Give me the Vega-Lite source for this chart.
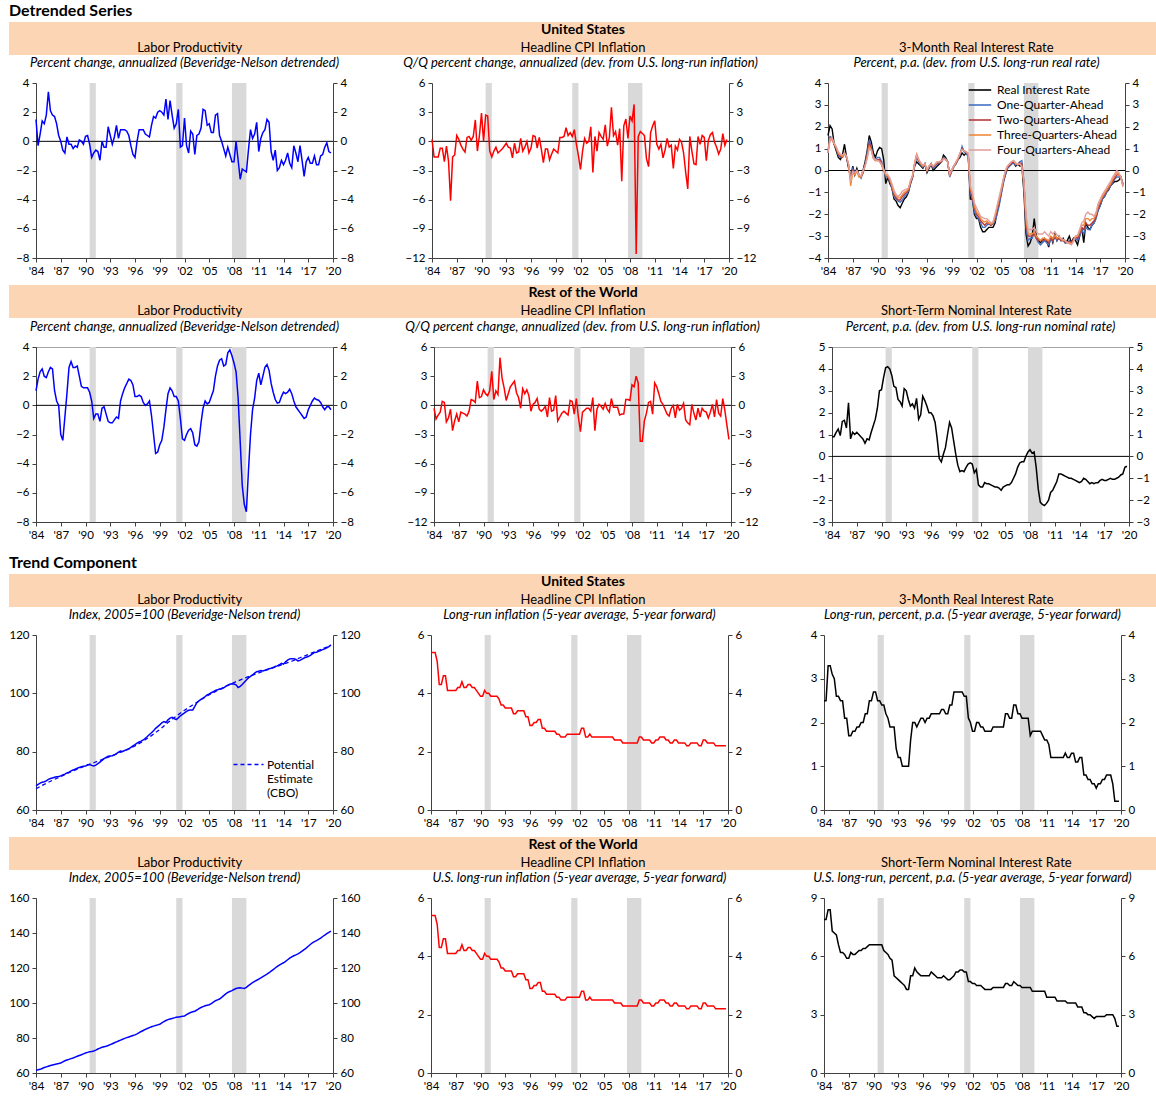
{
"$schema":"https://vega.github.io/schema/vega-lite/v6.json",
"padding":{"left":8,"top":3,"right":0,"bottom":0},
"background":"white",
"config":{
"font":"Lato",
"view":{"stroke":null},
"title":{"font":"Lato","fontSize":13,"fontStyle":"italic","fontWeight":"normal","color":"#000000","offset":7,"anchor":"middle"},
"axis":{"labelFont":"Lato","labelFontSize":11.5,"labelColor":"#000000","domainColor":"#404040","tickColor":"#404040","tickSize":4,"grid":false,"labelPadding":3},
"axisY":{"minExtent":26,"maxExtent":26},
"legend":{"labelFont":"Lato","labelFontSize":12,"labelColor":"#000000"},
"text":{"font":"Lato","color":"#000000"}
},
"datasets":{
"rec":[{"s":1990.5,"e":1991.25},{"s":2001.0,"e":2001.75},{"s":2007.75,"e":2009.5}],
"pot":[{"t":1984,"v":67.3},{"t":1985,"v":68.8},{"t":1986,"v":70.2},{"t":1987,"v":71.5},{"t":1988,"v":72.8},{"t":1989,"v":74.0},{"t":1990,"v":75.2},{"t":1991,"v":76.2},{"t":1992,"v":77.3},{"t":1993,"v":78.4},{"t":1994,"v":79.5},{"t":1995,"v":80.6},{"t":1996,"v":82.0},{"t":1997,"v":83.6},{"t":1998,"v":85.5},{"t":1999,"v":87.6},{"t":2000,"v":90.0},{"t":2001,"v":92.2},{"t":2002,"v":94.2},{"t":2003,"v":96.0},{"t":2004,"v":97.8},{"t":2005,"v":99.5},{"t":2006,"v":101.0},{"t":2007,"v":102.4},{"t":2008,"v":103.7},{"t":2009,"v":104.9},{"t":2010,"v":106.0},{"t":2011,"v":107.0},{"t":2012,"v":108.0},{"t":2013,"v":109.0},{"t":2014,"v":110.0},{"t":2015,"v":111.0},{"t":2016,"v":112.2},{"t":2017,"v":113.3},{"t":2018,"v":114.5},{"t":2019,"v":115.6},{"t":2019.75,"v":116.4}],
"bandUS":[{"c":"1","r":"h","s":""},{"c":"2","r":"h","s":"United States"},{"c":"3","r":"h","s":""},{"c":"1","r":"s","s":"Labor Productivity"},{"c":"2","r":"s","s":"Headline CPI Inflation"},{"c":"3","r":"s","s":"3-Month Real Interest Rate"}],
"bandRW":[{"c":"1","r":"h","s":""},{"c":"2","r":"h","s":"Rest of the World"},{"c":"3","r":"h","s":""},{"c":"1","r":"s","s":"Labor Productivity"},{"c":"2","r":"s","s":"Headline CPI Inflation"},{"c":"3","r":"s","s":"Short-Term Nominal Interest Rate"}],
"q":[
{"t":1984,"ul":1.5,"uc":0.2,"rr":1.6,"f1":0.9,"f2":0.8,"f3":0.9,"f4":0.8,"rl":1.0,"rc":-0.3,"ri":0.9,"tl":68.3,"ti":5.4,"tr":2.5,"tw":61.5,"tn":7.9},
{"t":1984.25,"ul":-0.3,"uc":-1.6,"rr":2.05,"f1":1.55,"f2":1.5,"f3":1.4,"f4":1.45,"rl":1.8,"rc":-1.4,"ri":0.9,"tl":68.8,"ti":5.4,"tr":2.5,"tw":61.8,"tn":7.9},
{"t":1984.5,"ul":0.5,"uc":-1.6,"rr":1.9,"f1":1.5,"f2":1.45,"f3":1.4,"f4":1.5,"rl":2.3,"rc":-1.0,"ri":1.1,"tl":69.2,"ti":5.4,"tr":3.3,"tw":62.1,"tn":8.4},
{"t":1984.75,"ul":1.4,"uc":-1.6,"rr":1.2,"f1":1.2,"f2":1.2,"f3":1.2,"f4":1.25,"rl":2.5,"rc":-0.7,"ri":1.25,"tl":69.5,"ti":5.1,"tr":3.3,"tw":62.6,"tn":8.4},
{"t":1985,"ul":1.2,"uc":-0.7,"rr":0.9,"f1":1.0,"f2":1.0,"f3":1.05,"f4":1.1,"rl":2.0,"rc":0.4,"ri":0.95,"tl":69.7,"ti":4.3,"tr":3.1,"tw":63.1,"tn":7.3},
{"t":1985.25,"ul":1.8,"uc":-0.7,"rr":0.6,"f1":0.7,"f2":0.75,"f3":0.8,"f4":0.85,"rl":1.9,"rc":0.3,"ri":1.6,"tl":70.0,"ti":4.3,"tr":3.0,"tw":63.5,"tn":7.2},
{"t":1985.5,"ul":3.4,"uc":-2.1,"rr":0.5,"f1":0.6,"f2":0.65,"f3":0.7,"f4":0.75,"rl":2.3,"rc":-1.7,"ri":1.65,"tl":70.5,"ti":4.6,"tr":2.6,"tw":63.9,"tn":7.1},
{"t":1985.75,"ul":2.1,"uc":-0.5,"rr":0.7,"f1":0.6,"f2":0.6,"f3":0.65,"f4":0.7,"rl":2.6,"rc":-1.3,"ri":1.3,"tl":70.8,"ti":4.6,"tr":2.6,"tw":64.3,"tn":6.6},
{"t":1986,"ul":1.8,"uc":-2.0,"rr":1.2,"f1":0.8,"f2":0.8,"f3":0.75,"f4":0.8,"rl":2.5,"rc":-0.4,"ri":2.45,"tl":71.0,"ti":4.1,"tr":2.5,"tw":64.6,"tn":6.2},
{"t":1986.25,"ul":1.7,"uc":-6.1,"rr":0.6,"f1":0.6,"f2":0.6,"f3":0.65,"f4":0.65,"rl":1.0,"rc":-2.6,"ri":0.8,"tl":71.2,"ti":4.1,"tr":2.5,"tw":64.9,"tn":6.2},
{"t":1986.5,"ul":1.2,"uc":-1.6,"rr":0.1,"f1":0.2,"f2":0.2,"f3":0.25,"f4":0.3,"rl":0.3,"rc":-1.6,"ri":1.1,"tl":71.4,"ti":4.1,"tr":2.1,"tw":65.2,"tn":6.1},
{"t":1986.75,"ul":0.4,"uc":-1.4,"rr":-0.3,"f1":-0.3,"f2":-0.4,"f3":-0.7,"f4":-0.5,"rl":0.0,"rc":-0.9,"ri":1.0,"tl":71.5,"ti":4.1,"tr":2.1,"tw":65.4,"tn":5.9},
{"t":1987,"ul":0.0,"uc":0.6,"rr":0.2,"f1":0.1,"f2":0.0,"f3":-0.1,"f4":-0.05,"rl":-2.0,"rc":-1.7,"ri":1.1,"tl":71.7,"ti":4.1,"tr":1.7,"tw":65.7,"tn":5.9},
{"t":1987.25,"ul":-0.6,"uc":0.2,"rr":-0.2,"f1":-0.1,"f2":-0.15,"f3":-0.2,"f4":-0.1,"rl":-2.4,"rc":-0.7,"ri":1.0,"tl":72.0,"ti":4.2,"tr":1.7,"tw":66.4,"tn":6.2},
{"t":1987.5,"ul":-0.8,"uc":-0.4,"rr":0.1,"f1":0.0,"f2":0.0,"f3":-0.05,"f4":0.0,"rl":-0.8,"rc":-0.8,"ri":0.9,"tl":72.3,"ti":4.2,"tr":1.8,"tw":67.0,"tn":6.1},
{"t":1987.75,"ul":0.3,"uc":-0.8,"rr":-0.2,"f1":-0.2,"f2":-0.25,"f3":-0.3,"f4":-0.2,"rl":0.8,"rc":-0.9,"ri":0.8,"tl":72.7,"ti":4.4,"tr":1.8,"tw":67.4,"tn":6.1},
{"t":1988,"ul":-0.2,"uc":-1.1,"rr":-0.3,"f1":-0.35,"f2":-0.3,"f3":-0.3,"f4":-0.25,"rl":2.6,"rc":-1.1,"ri":0.6,"tl":73.0,"ti":4.2,"tr":1.9,"tw":67.8,"tn":6.2},
{"t":1988.25,"ul":-0.2,"uc":0.4,"rr":0.0,"f1":-0.1,"f2":-0.1,"f3":-0.05,"f4":0.0,"rl":3.0,"rc":-0.6,"ri":0.8,"tl":73.4,"ti":4.2,"tr":1.9,"tw":68.2,"tn":6.3},
{"t":1988.5,"ul":-0.5,"uc":0.5,"rr":0.4,"f1":0.3,"f2":0.25,"f3":0.2,"f4":0.2,"rl":2.6,"rc":0.6,"ri":0.75,"tl":73.7,"ti":4.3,"tr":2.0,"tw":68.6,"tn":6.3},
{"t":1988.75,"ul":-0.3,"uc":0.1,"rr":0.9,"f1":0.8,"f2":0.7,"f3":0.6,"f4":0.55,"rl":2.6,"rc":0.5,"ri":1.1,"tl":74.0,"ti":4.3,"tr":2.0,"tw":69.1,"tn":6.4},
{"t":1989,"ul":-0.4,"uc":0.5,"rr":1.6,"f1":1.4,"f2":1.25,"f3":1.1,"f4":1.0,"rl":2.7,"rc":0.3,"ri":1.4,"tl":74.3,"ti":4.2,"tr":2.2,"tw":69.6,"tn":6.4},
{"t":1989.25,"ul":0.1,"uc":2.2,"rr":1.3,"f1":1.1,"f2":1.0,"f3":0.95,"f4":0.9,"rl":2.0,"rc":2.5,"ri":1.7,"tl":74.6,"ti":4.2,"tr":2.2,"tw":70.0,"tn":6.5},
{"t":1989.5,"ul":0.0,"uc":-1.0,"rr":0.8,"f1":0.6,"f2":0.6,"f3":0.55,"f4":0.55,"rl":1.3,"rc":0.8,"ri":2.2,"tl":74.8,"ti":4.1,"tr":2.5,"tw":70.4,"tn":6.6},
{"t":1989.75,"ul":-0.2,"uc":0.6,"rr":0.6,"f1":0.5,"f2":0.45,"f3":0.45,"f4":0.5,"rl":1.2,"rc":0.9,"ri":3.0,"tl":75.0,"ti":4.0,"tr":2.5,"tw":70.9,"tn":6.6},
{"t":1990,"ul":0.35,"uc":2.9,"rr":0.9,"f1":0.6,"f2":0.5,"f3":0.45,"f4":0.45,"rl":1.2,"rc":1.6,"ri":3.05,"tl":75.1,"ti":3.9,"tr":2.7,"tw":71.4,"tn":6.6},
{"t":1990.25,"ul":0.4,"uc":0.0,"rr":1.05,"f1":0.6,"f2":0.5,"f3":0.4,"f4":0.4,"rl":1.2,"rc":1.2,"ri":3.6,"tl":75.4,"ti":3.9,"tr":2.7,"tw":71.8,"tn":6.6},
{"t":1990.5,"ul":-0.2,"uc":2.7,"rr":1.0,"f1":0.4,"f2":0.3,"f3":0.25,"f4":0.3,"rl":0.9,"rc":1.0,"ri":4.05,"tl":75.6,"ti":4.1,"tr":2.5,"tw":72.1,"tn":6.6},
{"t":1990.75,"ul":-1.1,"uc":2.6,"rr":0.5,"f1":0.1,"f2":0.0,"f3":0.0,"f4":0.05,"rl":0.3,"rc":1.5,"ri":4.1,"tl":75.3,"ti":4.0,"tr":2.5,"tw":72.3,"tn":6.6},
{"t":1991,"ul":-0.8,"uc":-1.0,"rr":-0.6,"f1":-0.3,"f2":-0.2,"f3":-0.2,"f4":-0.15,"rl":-0.9,"rc":3.5,"ri":4.0,"tl":75.1,"ti":4.0,"tr":2.4,"tw":72.6,"tn":6.6},
{"t":1991.25,"ul":-0.6,"uc":-1.6,"rr":-0.3,"f1":-0.3,"f2":-0.3,"f3":-0.25,"f4":-0.2,"rl":-0.6,"rc":0.6,"ri":3.7,"tl":75.4,"ti":3.9,"tr":2.4,"tw":73.1,"tn":6.3},
{"t":1991.5,"ul":-0.7,"uc":-1.0,"rr":-0.6,"f1":-0.5,"f2":-0.45,"f3":-0.4,"f4":-0.35,"rl":-0.6,"rc":1.5,"ri":3.2,"tl":75.9,"ti":3.9,"tr":2.2,"tw":73.7,"tn":6.2},
{"t":1991.75,"ul":-1.3,"uc":-0.6,"rr":-0.8,"f1":-0.8,"f2":-0.75,"f3":-0.7,"f4":-0.6,"rl":-1.1,"rc":1.1,"ri":3.15,"tl":76.4,"ti":3.9,"tr":2.1,"tw":74.2,"tn":6.1},
{"t":1992,"ul":0.0,"uc":-1.2,"rr":-1.3,"f1":-1.2,"f2":-1.1,"f3":-1.0,"f4":-0.9,"rl":-0.2,"rc":4.9,"ri":2.6,"tl":77.0,"ti":3.9,"tr":1.9,"tw":74.7,"tn":5.9},
{"t":1992.25,"ul":-0.4,"uc":-1.0,"rr":-1.4,"f1":-1.3,"f2":-1.25,"f3":-1.15,"f4":-1.1,"rl":-0.1,"rc":2.8,"ri":2.5,"tl":77.6,"ti":3.8,"tr":1.9,"tw":75.0,"tn":5.8},
{"t":1992.5,"ul":-0.4,"uc":-0.8,"rr":-1.6,"f1":-1.4,"f2":-1.35,"f3":-1.25,"f4":-1.2,"rl":-0.6,"rc":1.8,"ri":2.3,"tl":78.0,"ti":3.6,"tr":1.9,"tw":75.3,"tn":5.0},
{"t":1992.75,"ul":1.0,"uc":-0.5,"rr":-1.7,"f1":-1.45,"f2":-1.35,"f3":-1.25,"f4":-1.1,"rl":-1.1,"rc":0.5,"ri":3.1,"tl":78.4,"ti":3.6,"tr":1.4,"tw":75.7,"tn":4.9},
{"t":1993,"ul":0.4,"uc":-0.2,"rr":-1.5,"f1":-1.35,"f2":-1.2,"f3":-1.1,"f4":-0.95,"rl":-1.2,"rc":1.2,"ri":3.0,"tl":78.5,"ti":3.5,"tr":1.2,"tw":76.2,"tn":4.8},
{"t":1993.25,"ul":-0.2,"uc":-0.6,"rr":-1.3,"f1":-1.2,"f2":-1.1,"f3":-1.0,"f4":-0.9,"rl":-1.2,"rc":1.9,"ri":2.6,"tl":78.6,"ti":3.5,"tr":1.2,"tw":76.7,"tn":4.7},
{"t":1993.5,"ul":0.3,"uc":-0.7,"rr":-1.2,"f1":-1.1,"f2":-1.0,"f3":-0.95,"f4":-0.85,"rl":-1.0,"rc":2.2,"ri":2.3,"tl":78.9,"ti":3.5,"tr":1.0,"tw":77.3,"tn":4.6},
{"t":1993.75,"ul":1.1,"uc":-1.7,"rr":-1.0,"f1":-0.95,"f2":-0.9,"f3":-0.85,"f4":-0.8,"rl":-0.8,"rc":2.5,"ri":2.4,"tl":79.3,"ti":3.5,"tr":1.0,"tw":77.8,"tn":4.5},
{"t":1994,"ul":0.2,"uc":-0.2,"rr":-0.6,"f1":-0.6,"f2":-0.55,"f3":-0.5,"f4":-0.45,"rl":-0.9,"rc":1.3,"ri":2.2,"tl":79.8,"ti":3.3,"tr":1.0,"tw":78.3,"tn":4.3},
{"t":1994.25,"ul":0.8,"uc":-1.2,"rr":-0.3,"f1":-0.3,"f2":-0.3,"f3":-0.2,"f4":-0.25,"rl":0.3,"rc":0.8,"ri":2.65,"tl":80.2,"ti":3.3,"tr":1.0,"tw":78.8,"tn":4.3},
{"t":1994.5,"ul":0.8,"uc":-1.1,"rr":0.2,"f1":0.25,"f2":0.3,"f3":0.35,"f4":0.3,"rl":0.8,"rc":-0.3,"ri":1.7,"tl":80.1,"ti":3.4,"tr":1.6,"tw":79.3,"tn":5.0},
{"t":1994.75,"ul":0.8,"uc":0.3,"rr":0.4,"f1":0.6,"f2":0.7,"f3":0.75,"f4":0.7,"rl":1.2,"rc":1.7,"ri":1.9,"tl":80.4,"ti":3.4,"tr":2.0,"tw":79.8,"tn":5.0},
{"t":1995,"ul":0.7,"uc":-1.0,"rr":0.3,"f1":0.4,"f2":0.45,"f3":0.5,"f4":0.5,"rl":1.5,"rc":1.2,"ri":2.75,"tl":80.7,"ti":3.4,"tr":2.0,"tw":80.2,"tn":5.4},
{"t":1995.25,"ul":0.4,"uc":-0.6,"rr":0.2,"f1":0.25,"f2":0.3,"f3":0.3,"f4":0.35,"rl":1.8,"rc":1.6,"ri":2.55,"tl":81.0,"ti":3.4,"tr":1.9,"tw":80.6,"tn":5.2},
{"t":1995.5,"ul":-0.3,"uc":0.0,"rr":0.1,"f1":0.15,"f2":0.2,"f3":0.2,"f4":0.25,"rl":1.7,"rc":1.0,"ri":2.3,"tl":81.5,"ti":3.2,"tr":2.0,"tw":81.0,"tn":5.1},
{"t":1995.75,"ul":-0.9,"uc":-1.2,"rr":0.3,"f1":0.3,"f2":0.3,"f3":0.3,"f4":0.3,"rl":1.4,"rc":-0.6,"ri":2.0,"tl":82.0,"ti":3.2,"tr":2.1,"tw":81.4,"tn":5.0},
{"t":1996,"ul":-1.1,"uc":-0.7,"rr":-0.1,"f1":-0.05,"f2":0.0,"f3":0.0,"f4":0.05,"rl":0.6,"rc":0.1,"ri":2.0,"tl":82.4,"ti":2.9,"tr":2.1,"tw":81.8,"tn":5.0},
{"t":1996.25,"ul":0.0,"uc":0.6,"rr":0.1,"f1":0.15,"f2":0.2,"f3":0.2,"f4":0.2,"rl":0.6,"rc":0.3,"ri":1.85,"tl":82.9,"ti":2.9,"tr":2.0,"tw":82.4,"tn":5.0},
{"t":1996.5,"ul":0.8,"uc":0.5,"rr":0.3,"f1":0.3,"f2":0.3,"f3":0.3,"f4":0.3,"rl":0.7,"rc":0.7,"ri":1.55,"tl":83.3,"ti":3.0,"tr":2.1,"tw":83.1,"tn":5.0},
{"t":1996.75,"ul":0.8,"uc":-0.7,"rr":0.0,"f1":0.1,"f2":0.15,"f3":0.2,"f4":0.2,"rl":0.6,"rc":-0.4,"ri":0.8,"tl":83.6,"ti":3.0,"tr":2.1,"tw":83.7,"tn":5.0},
{"t":1997,"ul":0.8,"uc":0.4,"rr":0.1,"f1":0.2,"f2":0.25,"f3":0.3,"f4":0.3,"rl":0.2,"rc":-0.6,"ri":-0.1,"tl":84.0,"ti":3.1,"tr":2.2,"tw":84.3,"tn":5.2},
{"t":1997.25,"ul":0.5,"uc":-0.8,"rr":0.2,"f1":0.3,"f2":0.35,"f3":0.4,"f4":0.4,"rl":0.0,"rc":-0.4,"ri":-0.25,"tl":84.6,"ti":3.1,"tr":2.2,"tw":84.9,"tn":5.1},
{"t":1997.5,"ul":0.4,"uc":-2.2,"rr":0.3,"f1":0.35,"f2":0.35,"f3":0.4,"f4":0.4,"rl":0.1,"rc":-0.1,"ri":0.1,"tl":85.2,"ti":2.8,"tr":2.2,"tw":85.4,"tn":5.0},
{"t":1997.75,"ul":0.3,"uc":-0.8,"rr":0.4,"f1":0.4,"f2":0.4,"f3":0.45,"f4":0.45,"rl":0.3,"rc":-1.2,"ri":0.4,"tl":85.9,"ti":2.8,"tr":2.2,"tw":85.9,"tn":4.9},
{"t":1998,"ul":1.1,"uc":-0.8,"rr":0.7,"f1":0.6,"f2":0.55,"f3":0.55,"f4":0.5,"rl":-0.7,"rc":0.8,"ri":1.0,"tl":86.5,"ti":2.7,"tr":2.2,"tw":86.4,"tn":4.9},
{"t":1998.25,"ul":1.7,"uc":-1.9,"rr":0.6,"f1":0.55,"f2":0.5,"f3":0.5,"f4":0.5,"rl":-2.0,"rc":-0.6,"ri":1.55,"tl":87.2,"ti":2.7,"tr":2.3,"tw":86.8,"tn":4.9},
{"t":1998.5,"ul":1.6,"uc":-1.3,"rr":0.4,"f1":0.4,"f2":0.4,"f3":0.4,"f4":0.4,"rl":-3.3,"rc":-0.5,"ri":1.3,"tl":88.0,"ti":2.7,"tr":2.3,"tw":87.2,"tn":5.0},
{"t":1998.75,"ul":2.0,"uc":-0.8,"rr":-0.2,"f1":-0.3,"f2":-0.25,"f3":-0.2,"f4":-0.15,"rl":-3.2,"rc":1.0,"ri":0.7,"tl":88.6,"ti":2.7,"tr":2.2,"tw":87.5,"tn":4.9},
{"t":1999,"ul":2.1,"uc":-1.0,"rr":0.0,"f1":-0.05,"f2":0.0,"f3":0.0,"f4":0.05,"rl":-2.7,"rc":-1.6,"ri":0.1,"tl":89.2,"ti":2.7,"tr":2.2,"tw":87.8,"tn":4.8},
{"t":1999.25,"ul":2.0,"uc":-1.2,"rr":0.2,"f1":0.15,"f2":0.2,"f3":0.2,"f4":0.2,"rl":-2.4,"rc":-1.2,"ri":-0.4,"tl":89.9,"ti":2.6,"tr":2.4,"tw":88.6,"tn":4.8},
{"t":1999.5,"ul":1.8,"uc":0.4,"rr":0.3,"f1":0.3,"f2":0.35,"f3":0.35,"f4":0.4,"rl":-1.5,"rc":-0.8,"ri":-0.7,"tl":90.3,"ti":2.6,"tr":2.4,"tw":89.4,"tn":4.9},
{"t":1999.75,"ul":2.9,"uc":0.4,"rr":0.5,"f1":0.5,"f2":0.5,"f3":0.55,"f4":0.55,"rl":-0.3,"rc":-0.6,"ri":-0.65,"tl":90.0,"ti":2.5,"tr":2.7,"tw":90.0,"tn":5.0},
{"t":2000,"ul":1.5,"uc":0.5,"rr":0.6,"f1":0.7,"f2":0.75,"f3":0.8,"f4":0.8,"rl":0.8,"rc":-0.8,"ri":-0.7,"tl":90.9,"ti":2.5,"tr":2.7,"tw":90.5,"tn":5.2},
{"t":2000.25,"ul":2.8,"uc":1.4,"rr":0.8,"f1":1.1,"f2":1.0,"f3":0.95,"f4":0.95,"rl":1.2,"rc":-1.0,"ri":-0.5,"tl":91.5,"ti":2.5,"tr":2.7,"tw":90.9,"tn":5.2},
{"t":2000.5,"ul":1.8,"uc":0.6,"rr":0.7,"f1":0.85,"f2":0.9,"f3":0.9,"f4":0.9,"rl":1.0,"rc":0.5,"ri":-0.35,"tl":91.8,"ti":2.6,"tr":2.7,"tw":91.2,"tn":5.3},
{"t":2000.75,"ul":0.9,"uc":0.9,"rr":0.8,"f1":0.8,"f2":0.85,"f3":0.85,"f4":0.85,"rl":0.6,"rc":0.4,"ri":-0.3,"tl":91.3,"ti":2.6,"tr":2.7,"tw":91.5,"tn":5.3},
{"t":2001,"ul":1.2,"uc":0.5,"rr":0.7,"f1":0.6,"f2":0.7,"f3":0.75,"f4":0.8,"rl":0.6,"rc":-0.9,"ri":-0.35,"tl":91.0,"ti":2.6,"tr":2.6,"tw":91.8,"tn":5.2},
{"t":2001.25,"ul":2.2,"uc":1.2,"rr":-1.3,"f1":-1.0,"f2":-0.9,"f3":-0.8,"f4":-0.7,"rl":0.3,"rc":0.7,"ri":-0.75,"tl":91.6,"ti":2.6,"tr":2.6,"tw":92.0,"tn":5.2},
{"t":2001.5,"ul":-0.4,"uc":-0.3,"rr":-1.3,"f1":-1.3,"f2":-1.2,"f3":-1.1,"f4":-1.0,"rl":-0.9,"rc":-1.2,"ri":-0.6,"tl":92.3,"ti":2.6,"tr":2.1,"tw":92.2,"tn":4.7},
{"t":2001.75,"ul":-0.3,"uc":-1.5,"rr":-2.0,"f1":-1.9,"f2":-1.7,"f3":-1.6,"f4":-1.5,"rl":-2.3,"rc":-2.7,"ri":-1.3,"tl":92.8,"ti":2.6,"tr":2.0,"tw":92.4,"tn":4.7},
{"t":2002,"ul":1.6,"uc":-2.9,"rr":-2.2,"f1":-2.1,"f2":-2.0,"f3":-1.9,"f4":-1.7,"rl":-2.4,"rc":-0.7,"ri":-1.4,"tl":93.3,"ti":2.6,"tr":1.8,"tw":92.6,"tn":4.6},
{"t":2002.25,"ul":-0.3,"uc":-1.0,"rr":-2.2,"f1":-2.2,"f2":-2.1,"f3":-2.0,"f4":-1.9,"rl":-2.0,"rc":-0.5,"ri":-1.4,"tl":93.8,"ti":2.8,"tr":1.8,"tw":93.3,"tn":4.6},
{"t":2002.5,"ul":-0.8,"uc":0.3,"rr":-2.6,"f1":-2.4,"f2":-2.3,"f3":-2.2,"f4":-2.1,"rl":-1.7,"rc":-0.3,"ri":-1.2,"tl":94.2,"ti":2.8,"tr":2.0,"tw":94.0,"tn":4.5},
{"t":2002.75,"ul":0.7,"uc":-0.2,"rr":-2.8,"f1":-2.6,"f2":-2.4,"f3":-2.3,"f4":-2.15,"rl":-1.6,"rc":-0.3,"ri":-1.25,"tl":94.3,"ti":2.5,"tr":2.0,"tw":94.6,"tn":4.5},
{"t":2003,"ul":0.5,"uc":0.0,"rr":-2.8,"f1":-2.6,"f2":-2.5,"f3":-2.35,"f4":-2.2,"rl":-1.9,"rc":-0.6,"ri":-1.25,"tl":94.3,"ti":2.5,"tr":1.9,"tw":95.0,"tn":4.5},
{"t":2003.25,"ul":-0.9,"uc":1.5,"rr":-2.7,"f1":-2.5,"f2":-2.4,"f3":-2.3,"f4":-2.2,"rl":-2.7,"rc":0.8,"ri":-1.3,"tl":95.5,"ti":2.6,"tr":1.9,"tw":95.3,"tn":4.4},
{"t":2003.5,"ul":0.4,"uc":-3.2,"rr":-2.6,"f1":-2.45,"f2":-2.4,"f3":-2.4,"f4":-2.3,"rl":-2.8,"rc":-2.6,"ri":-1.35,"tl":96.8,"ti":2.5,"tr":1.8,"tw":96.0,"tn":4.3},
{"t":2003.75,"ul":0.5,"uc":0.5,"rr":-2.6,"f1":-2.5,"f2":-2.5,"f3":-2.45,"f4":-2.4,"rl":-2.5,"rc":-0.4,"ri":-1.4,"tl":97.4,"ti":2.5,"tr":1.8,"tw":96.8,"tn":4.3},
{"t":2004,"ul":0.9,"uc":-1.0,"rr":-2.6,"f1":-2.45,"f2":-2.4,"f3":-2.4,"f4":-2.35,"rl":-1.2,"rc":0.1,"ri":-1.4,"tl":97.9,"ti":2.5,"tr":1.8,"tw":97.4,"tn":4.3},
{"t":2004.25,"ul":2.2,"uc":0.9,"rr":-2.4,"f1":-2.3,"f2":-2.2,"f3":-2.1,"f4":-2.0,"rl":-0.2,"rc":-0.1,"ri":-1.45,"tl":98.4,"ti":2.5,"tr":1.8,"tw":97.9,"tn":4.3},
{"t":2004.5,"ul":2.1,"uc":0.5,"rr":-1.9,"f1":-2.0,"f2":-1.8,"f3":-1.7,"f4":-1.6,"rl":0.3,"rc":-0.4,"ri":-1.55,"tl":98.9,"ti":2.5,"tr":1.9,"tw":98.4,"tn":4.4},
{"t":2004.75,"ul":1.1,"uc":0.2,"rr":-1.5,"f1":-1.6,"f2":-1.4,"f3":-1.3,"f4":-1.2,"rl":0.1,"rc":0.2,"ri":-1.4,"tl":99.5,"ti":2.5,"tr":1.9,"tw":98.7,"tn":4.4},
{"t":2005,"ul":1.2,"uc":1.7,"rr":-1.0,"f1":-1.1,"f2":-1.0,"f3":-0.9,"f4":-0.8,"rl":0.2,"rc":-0.4,"ri":-1.35,"tl":99.8,"ti":2.5,"tr":1.9,"tw":99.0,"tn":4.4},
{"t":2005.25,"ul":0.6,"uc":-0.5,"rr":-0.5,"f1":-0.6,"f2":-0.5,"f3":-0.4,"f4":-0.4,"rl":0.6,"rc":-0.7,"ri":-1.3,"tl":100.2,"ti":2.5,"tr":1.9,"tw":99.7,"tn":4.4},
{"t":2005.5,"ul":0.6,"uc":0.4,"rr":-0.2,"f1":-0.2,"f2":-0.1,"f3":-0.05,"f4":0.0,"rl":1.0,"rc":0.7,"ri":-1.3,"tl":100.6,"ti":2.5,"tr":1.9,"tw":100.5,"tn":4.4},
{"t":2005.75,"ul":1.8,"uc":3.5,"rr":0.1,"f1":0.1,"f2":0.15,"f3":0.2,"f4":0.2,"rl":2.0,"rc":-0.2,"ri":-1.2,"tl":101.0,"ti":2.5,"tr":1.9,"tw":101.3,"tn":4.4},
{"t":2006,"ul":1.9,"uc":0.6,"rr":0.2,"f1":0.2,"f2":0.25,"f3":0.3,"f4":0.3,"rl":2.7,"rc":-0.2,"ri":-1.0,"tl":101.2,"ti":2.5,"tr":2.2,"tw":101.8,"tn":4.6},
{"t":2006.25,"ul":0.4,"uc":1.0,"rr":0.3,"f1":0.3,"f2":0.35,"f3":0.4,"f4":0.4,"rl":3.1,"rc":-0.2,"ri":-0.8,"tl":101.5,"ti":2.4,"tr":2.2,"tw":102.3,"tn":4.6},
{"t":2006.5,"ul":0.0,"uc":-0.4,"rr":0.35,"f1":0.35,"f2":0.4,"f3":0.45,"f4":0.45,"rl":3.2,"rc":-1.0,"ri":-0.5,"tl":101.6,"ti":2.4,"tr":2.1,"tw":103.2,"tn":4.5},
{"t":2006.75,"ul":-0.5,"uc":1.3,"rr":0.2,"f1":0.25,"f2":0.3,"f3":0.3,"f4":0.35,"rl":2.7,"rc":-0.9,"ri":-0.3,"tl":101.9,"ti":2.4,"tr":2.1,"tw":104.2,"tn":4.5},
{"t":2007,"ul":-1.0,"uc":-4.1,"rr":0.3,"f1":0.3,"f2":0.3,"f3":0.3,"f4":0.3,"rl":2.8,"rc":-0.9,"ri":-0.25,"tl":102.4,"ti":2.4,"tr":2.4,"tw":105.2,"tn":4.7},
{"t":2007.25,"ul":-0.4,"uc":1.6,"rr":0.2,"f1":0.4,"f2":0.35,"f3":0.3,"f4":0.3,"rl":3.6,"rc":0.6,"ri":-0.25,"tl":102.8,"ti":2.3,"tr":2.4,"tw":106.0,"tn":4.6},
{"t":2007.5,"ul":-0.9,"uc":2.3,"rr":0.2,"f1":0.45,"f2":0.3,"f3":0.2,"f4":0.15,"rl":3.8,"rc":0.6,"ri":0.0,"tl":103.1,"ti":2.3,"tr":2.2,"tw":106.6,"tn":4.5},
{"t":2007.75,"ul":-1.4,"uc":0.3,"rr":-1.0,"f1":-0.5,"f2":-0.6,"f3":-0.6,"f4":-0.5,"rl":3.4,"rc":0.5,"ri":0.2,"tl":103.3,"ti":2.3,"tr":2.2,"tw":107.1,"tn":4.5},
{"t":2008,"ul":-1.4,"uc":2.6,"rr":-2.9,"f1":-2.6,"f2":-2.4,"f3":-2.2,"f4":-2.0,"rl":2.9,"rc":2.1,"ri":0.3,"tl":103.2,"ti":2.3,"tr":2.1,"tw":107.7,"tn":4.4},
{"t":2008.25,"ul":0.0,"uc":2.1,"rr":-3.45,"f1":-3.2,"f2":-3.0,"f3":-2.9,"f4":-2.7,"rl":2.3,"rc":1.9,"ri":0.15,"tl":102.9,"ti":2.3,"tr":2.1,"tw":108.3,"tn":4.4},
{"t":2008.5,"ul":-1.3,"uc":3.8,"rr":-3.3,"f1":-3.1,"f2":-3.0,"f3":-2.9,"f4":-2.7,"rl":0.5,"rc":3.0,"ri":0.2,"tl":102.0,"ti":2.3,"tr":2.1,"tw":108.6,"tn":4.4},
{"t":2008.75,"ul":-2.6,"uc":-11.6,"rr":-3.0,"f1":-3.1,"f2":-3.0,"f3":-2.9,"f4":-2.7,"rl":-2.5,"rc":2.3,"ri":-0.5,"tl":102.4,"ti":2.3,"tr":2.1,"tw":108.7,"tn":4.4},
{"t":2009,"ul":-1.9,"uc":0.5,"rr":-2.2,"f1":-2.8,"f2":-2.9,"f3":-2.8,"f4":-2.6,"rl":-5.5,"rc":-3.7,"ri":-1.5,"tl":103.0,"ti":2.3,"tr":1.7,"tw":108.5,"tn":4.4},
{"t":2009.25,"ul":-2.0,"uc":1.0,"rr":-3.0,"f1":-3.1,"f2":-3.1,"f3":-3.0,"f4":-2.8,"rl":-6.8,"rc":-3.7,"ri":-2.1,"tl":103.8,"ti":2.5,"tr":1.8,"tw":108.3,"tn":4.2},
{"t":2009.5,"ul":-2.1,"uc":0.8,"rr":-3.2,"f1":-3.3,"f2":-3.2,"f3":-3.1,"f4":-2.9,"rl":-7.3,"rc":-1.6,"ri":-2.2,"tl":104.6,"ti":2.5,"tr":1.8,"tw":108.9,"tn":4.2},
{"t":2009.75,"ul":-0.6,"uc":0.6,"rr":-3.3,"f1":-3.4,"f2":-3.2,"f3":-3.2,"f4":-2.9,"rl":-4.5,"rc":-0.8,"ri":-2.25,"tl":105.3,"ti":2.4,"tr":1.8,"tw":109.9,"tn":4.2},
{"t":2010,"ul":0.8,"uc":-1.8,"rr":-3.2,"f1":-3.3,"f2":-3.2,"f3":-3.1,"f4":-2.9,"rl":-2.0,"rc":0.3,"ri":-2.15,"tl":105.8,"ti":2.4,"tr":1.8,"tw":110.8,"tn":4.2},
{"t":2010.25,"ul":0.2,"uc":-2.6,"rr":-3.1,"f1":-3.2,"f2":-3.15,"f3":-3.1,"f4":-2.8,"rl":-0.3,"rc":0.4,"ri":-2.0,"tl":106.3,"ti":2.4,"tr":1.8,"tw":111.6,"tn":4.2},
{"t":2010.5,"ul":0.5,"uc":0.9,"rr":-3.2,"f1":-3.3,"f2":-3.2,"f3":-3.15,"f4":-2.9,"rl":0.5,"rc":-0.9,"ri":-1.65,"tl":106.9,"ti":2.4,"tr":1.7,"tw":112.4,"tn":4.2},
{"t":2010.75,"ul":1.3,"uc":1.6,"rr":-3.5,"f1":-3.4,"f2":-3.3,"f3":-3.2,"f4":-3.0,"rl":1.7,"rc":2.3,"ri":-1.55,"tl":107.4,"ti":2.3,"tr":1.6,"tw":113.0,"tn":4.2},
{"t":2011,"ul":-0.7,"uc":2.1,"rr":-3.0,"f1":-3.1,"f2":-3.05,"f3":-3.0,"f4":-2.8,"rl":2.2,"rc":1.9,"ri":-1.35,"tl":107.6,"ti":2.3,"tr":1.6,"tw":113.7,"tn":3.9},
{"t":2011.25,"ul":0.2,"uc":-0.3,"rr":-3.3,"f1":-3.25,"f2":-3.2,"f3":-3.1,"f4":-2.9,"rl":1.4,"rc":1.2,"ri":-1.15,"tl":107.8,"ti":2.4,"tr":1.5,"tw":114.4,"tn":3.9},
{"t":2011.5,"ul":0.6,"uc":-0.8,"rr":-2.9,"f1":-3.0,"f2":-3.0,"f3":-2.95,"f4":-2.8,"rl":2.0,"rc":0.4,"ri":-0.8,"tl":107.7,"ti":2.4,"tr":1.2,"tw":115.1,"tn":3.9},
{"t":2011.75,"ul":0.8,"uc":-0.3,"rr":-3.2,"f1":-3.2,"f2":-3.15,"f3":-3.1,"f4":-2.95,"rl":2.6,"rc":0.1,"ri":-0.8,"tl":107.9,"ti":2.5,"tr":1.2,"tw":115.8,"tn":3.9},
{"t":2012,"ul":1.5,"uc":-1.7,"rr":-3.0,"f1":-3.1,"f2":-3.1,"f3":-3.05,"f4":-3.0,"rl":2.8,"rc":-0.4,"ri":-0.85,"tl":108.2,"ti":2.5,"tr":1.2,"tw":116.5,"tn":3.9},
{"t":2012.25,"ul":1.3,"uc":-0.9,"rr":-3.2,"f1":-3.2,"f2":-3.2,"f3":-3.15,"f4":-3.1,"rl":2.4,"rc":-0.9,"ri":-0.9,"tl":108.4,"ti":2.5,"tr":1.2,"tw":117.3,"tn":3.7},
{"t":2012.5,"ul":-0.7,"uc":0.3,"rr":-3.1,"f1":-3.2,"f2":-3.2,"f3":-3.2,"f4":-3.15,"rl":1.5,"rc":-1.1,"ri":-0.95,"tl":108.6,"ti":2.4,"tr":1.2,"tw":118.2,"tn":3.7},
{"t":2012.75,"ul":-1.3,"uc":-0.6,"rr":-3.3,"f1":-3.3,"f2":-3.25,"f3":-3.2,"f4":-3.2,"rl":0.9,"rc":-0.3,"ri":-1.0,"tl":108.9,"ti":2.4,"tr":1.2,"tw":119.1,"tn":3.7},
{"t":2013,"ul":-0.6,"uc":-0.4,"rr":-3.2,"f1":-3.3,"f2":-3.3,"f3":-3.3,"f4":-3.3,"rl":0.4,"rc":0.0,"ri":-1.0,"tl":109.2,"ti":2.3,"tr":1.2,"tw":120.0,"tn":3.7},
{"t":2013.25,"ul":-2.0,"uc":-2.8,"rr":-3.0,"f1":-3.2,"f2":-3.25,"f3":-3.3,"f4":-3.35,"rl":0.15,"rc":-1.3,"ri":-1.05,"tl":109.4,"ti":2.3,"tr":1.3,"tw":120.9,"tn":3.7},
{"t":2013.5,"ul":-1.8,"uc":-0.5,"rr":-3.3,"f1":-3.3,"f2":-3.3,"f3":-3.35,"f4":-3.4,"rl":0.2,"rc":0.1,"ri":-1.1,"tl":109.8,"ti":2.4,"tr":1.2,"tw":121.7,"tn":3.6},
{"t":2013.75,"ul":-1.3,"uc":-0.9,"rr":-3.1,"f1":-3.2,"f2":-3.15,"f3":-3.2,"f4":-3.25,"rl":0.6,"rc":-0.5,"ri":-1.15,"tl":110.3,"ti":2.4,"tr":1.2,"tw":122.4,"tn":3.6},
{"t":2014,"ul":-1.6,"uc":0.2,"rr":-3.2,"f1":-3.1,"f2":-3.05,"f3":-3.0,"f4":-3.0,"rl":0.9,"rc":-0.3,"ri":-1.2,"tl":110.0,"ti":2.3,"tr":1.3,"tw":123.0,"tn":3.6},
{"t":2014.25,"ul":-1.3,"uc":-0.1,"rr":-3.4,"f1":-3.2,"f2":-3.1,"f3":-3.0,"f4":-2.95,"rl":0.8,"rc":0.2,"ri":-1.15,"tl":110.8,"ti":2.3,"tr":1.3,"tw":123.8,"tn":3.6},
{"t":2014.5,"ul":-0.8,"uc":-1.2,"rr":-3.0,"f1":-3.0,"f2":-2.9,"f3":-2.8,"f4":-2.7,"rl":0.9,"rc":-1.5,"ri":-1.0,"tl":111.4,"ti":2.3,"tr":1.1,"tw":124.7,"tn":3.6},
{"t":2014.75,"ul":-1.5,"uc":-3.2,"rr":-2.6,"f1":-2.7,"f2":-2.6,"f3":-2.5,"f4":-2.4,"rl":1.1,"rc":-1.8,"ri":-1.05,"tl":111.8,"ti":2.3,"tr":1.1,"tw":125.6,"tn":3.4},
{"t":2015,"ul":-1.8,"uc":-4.9,"rr":-3.3,"f1":-2.9,"f2":-2.7,"f3":-2.5,"f4":-2.3,"rl":0.8,"rc":-2.0,"ri":-1.15,"tl":111.9,"ti":2.2,"tr":1.2,"tw":126.4,"tn":3.4},
{"t":2015.25,"ul":-0.3,"uc":0.5,"rr":-2.4,"f1":-2.6,"f2":-2.4,"f3":-2.2,"f4":-2.0,"rl":0.3,"rc":0.1,"ri":-1.25,"tl":111.9,"ti":2.2,"tr":1.2,"tw":127.0,"tn":3.4},
{"t":2015.5,"ul":-0.8,"uc":-1.0,"rr":-2.6,"f1":-2.7,"f2":-2.5,"f3":-2.2,"f4":-1.9,"rl":-0.1,"rc":-0.8,"ri":-1.2,"tl":111.6,"ti":2.3,"tr":0.8,"tw":127.5,"tn":3.1},
{"t":2015.75,"ul":-1.4,"uc":-2.3,"rr":-2.7,"f1":-2.7,"f2":-2.5,"f3":-2.3,"f4":-2.0,"rl":-0.3,"rc":-1.5,"ri":-1.25,"tl":111.1,"ti":2.3,"tr":0.8,"tw":128.1,"tn":3.1},
{"t":2016,"ul":-0.3,"uc":-2.4,"rr":-2.5,"f1":-2.5,"f2":-2.4,"f3":-2.2,"f4":-2.0,"rl":-0.5,"rc":-0.3,"ri":-1.2,"tl":111.3,"ti":2.3,"tr":0.7,"tw":128.8,"tn":3.0},
{"t":2016.25,"ul":-1.3,"uc":0.5,"rr":-2.4,"f1":-2.4,"f2":-2.3,"f3":-2.2,"f4":-2.1,"rl":-0.7,"rc":-1.2,"ri":-1.2,"tl":111.7,"ti":2.3,"tr":0.7,"tw":129.6,"tn":3.0},
{"t":2016.5,"ul":-2.4,"uc":-0.3,"rr":-2.1,"f1":-2.2,"f2":-2.1,"f3":-2.0,"f4":-1.9,"rl":-0.9,"rc":-0.3,"ri":-1.1,"tl":112.1,"ti":2.2,"tr":0.6,"tw":130.5,"tn":2.9},
{"t":2016.75,"ul":-1.4,"uc":0.6,"rr":-1.8,"f1":-1.8,"f2":-1.7,"f3":-1.6,"f4":-1.5,"rl":-0.8,"rc":-0.6,"ri":-1.05,"tl":112.4,"ti":2.2,"tr":0.6,"tw":131.4,"tn":2.8},
{"t":2017,"ul":-1.1,"uc":0.4,"rr":-1.6,"f1":-1.6,"f2":-1.5,"f3":-1.4,"f4":-1.3,"rl":-0.3,"rc":-0.7,"ri":-1.1,"tl":112.6,"ti":2.4,"tr":0.5,"tw":132.4,"tn":2.9},
{"t":2017.25,"ul":-1.5,"uc":-2.0,"rr":-1.3,"f1":-1.3,"f2":-1.25,"f3":-1.2,"f4":-1.1,"rl":0.0,"rc":-1.3,"ri":-1.1,"tl":113.0,"ti":2.4,"tr":0.6,"tw":133.4,"tn":2.9},
{"t":2017.5,"ul":-1.5,"uc":0.1,"rr":-1.2,"f1":-1.2,"f2":-1.1,"f3":-1.05,"f4":-0.95,"rl":0.3,"rc":-0.7,"ri":-1.05,"tl":113.5,"ti":2.3,"tr":0.6,"tw":134.4,"tn":2.9},
{"t":2017.75,"ul":-1.0,"uc":0.7,"rr":-1.0,"f1":-1.0,"f2":-0.95,"f3":-0.9,"f4":-0.8,"rl":0.5,"rc":0.1,"ri":-1.0,"tl":114.0,"ti":2.3,"tr":0.7,"tw":135.1,"tn":2.9},
{"t":2018,"ul":-1.6,"uc":0.9,"rr":-0.9,"f1":-0.85,"f2":-0.8,"f3":-0.75,"f4":-0.65,"rl":0.4,"rc":-1.2,"ri":-1.05,"tl":114.1,"ti":2.3,"tr":0.7,"tw":135.6,"tn":2.9},
{"t":2018.25,"ul":-1.6,"uc":-0.1,"rr":-0.7,"f1":-0.7,"f2":-0.65,"f3":-0.6,"f4":-0.5,"rl":0.35,"rc":0.6,"ri":-1.05,"tl":114.4,"ti":2.3,"tr":0.8,"tw":136.3,"tn":3.0},
{"t":2018.5,"ul":-1.0,"uc":-0.6,"rr":-0.6,"f1":-0.55,"f2":-0.5,"f3":-0.4,"f4":-0.3,"rl":0.2,"rc":-0.8,"ri":-1.0,"tl":114.7,"ti":2.2,"tr":0.8,"tw":137.1,"tn":3.0},
{"t":2018.75,"ul":-0.9,"uc":-1.3,"rr":-0.5,"f1":-0.4,"f2":-0.35,"f3":-0.25,"f4":-0.15,"rl":-0.1,"rc":-1.1,"ri":-0.95,"tl":115.0,"ti":2.2,"tr":0.8,"tw":138.0,"tn":3.0},
{"t":2019,"ul":-0.4,"uc":-0.8,"rr":-0.5,"f1":-0.3,"f2":-0.2,"f3":-0.1,"f4":0.0,"rl":-0.3,"rc":0.7,"ri":-0.85,"tl":115.3,"ti":2.2,"tr":0.6,"tw":138.8,"tn":3.0},
{"t":2019.25,"ul":-0.1,"uc":0.8,"rr":-0.45,"f1":-0.3,"f2":-0.2,"f3":-0.15,"f4":-0.1,"rl":-0.1,"rc":-0.5,"ri":-0.8,"tl":115.6,"ti":2.2,"tr":0.2,"tw":139.6,"tn":2.8},
{"t":2019.5,"ul":-0.7,"uc":-0.4,"rr":-0.3,"f1":-0.3,"f2":-0.3,"f3":-0.3,"f4":-0.3,"rl":-0.1,"rc":-2.0,"ri":-0.5,"tl":116.0,"ti":2.2,"tr":0.2,"tw":140.4,"tn":2.4},
{"t":2019.75,"ul":-0.8,"uc":0.2,"rr":-0.6,"f1":-0.65,"f2":-0.7,"f3":-0.75,"f4":-0.7,"rl":-0.3,"rc":-3.5,"ri":-0.45,"tl":116.6,"ti":2.2,"tr":0.2,"tw":141.1,"tn":2.4}
]
},
"spacing":14,
"vconcat":[
{"title":{"text":"Detrended Series","anchor":"start","fontSize":16,"fontWeight":"bold","fontStyle":"normal","offset":3},
 "spacing":8,
 "vconcat":[
  {"spacing":2,"vconcat":[
   {"width":1121,"height":33,
    "layer":[
     {"data":{"values":[{}]},"mark":{"type":"rect","color":"#FCD5B4"},"encoding":{"x":{"datum":0,"type":"quantitative","scale":{"domain":[0,1],"range":[-27,1121]},"axis":null},"x2":{"datum":1}}},
     {"data":{"name":"bandUS"},"transform":[{"filter":"datum.r=='h'"}],"mark":{"type":"text","fontSize":14,"fontWeight":"bold"},"encoding":{"x":{"field":"c","type":"nominal","scale":{"domain":["1","2","3"],"range":[-43,1137]},"axis":null},"y":{"field":"r","type":"nominal","scale":{"domain":["h","s"]},"axis":null},"text":{"field":"s"}}},
     {"data":{"name":"bandUS"},"transform":[{"filter":"datum.r=='s'"}],"mark":{"type":"text","fontSize":13,"dy":1},"encoding":{"x":{"field":"c","type":"nominal","scale":{"domain":["1","2","3"],"range":[-43,1137]},"axis":null},"y":{"field":"r","type":"nominal","scale":{"domain":["h","s"]},"axis":null},"text":{"field":"s"}}}
    ],"resolve":{"scale":{"x":"independent"}}},
   {"spacing":44,"resolve":{"scale":{"color":"independent","strokeDash":"independent"}},"hconcat":[
    {"width":297,"height":175,"title":"Percent change, annualized (Beveridge-Nelson detrended)","layer":[
      {"data":{"name":"rec"},"mark":{"type":"rect","color":"#D9D9D9"},"encoding":{"x":{"field":"s","type":"quantitative","scale":{"domain":[1984,2020],"nice":false,"zero":false},"axis":{"values":[1984,1987,1990,1993,1996,1999,2002,2005,2008,2011,2014,2017,2020],"labelExpr":"\"'\"+substring(toString(datum.value),2,4)","title":null,"labelOverlap":false,"labelFlush":false}},"x2":{"field":"e"}}},
      {"data":{"values":[{}]},"mark":{"type":"rule","color":"#000000","strokeWidth":1},"encoding":{"y":{"datum":0,"type":"quantitative","scale":{"domain":[-8,4],"nice":false,"zero":false},"axis":{"orient":"right","values":[-8,-6,-4,-2,0,2,4],"title":null}}}},
      {"data":{"name":"q"},"mark":{"type":"line","color":"#0000FF","strokeWidth":1.5},"encoding":{"x":{"field":"t","type":"quantitative","scale":{"domain":[1984,2020],"nice":false,"zero":false},"axis":{"values":[1984,1987,1990,1993,1996,1999,2002,2005,2008,2011,2014,2017,2020],"labelExpr":"\"'\"+substring(toString(datum.value),2,4)","title":null,"labelOverlap":false,"labelFlush":false}},"y":{"field":"ul","type":"quantitative","scale":{"domain":[-8,4],"nice":false,"zero":false},"axis":{"orient":"left","values":[-8,-6,-4,-2,0,2,4],"title":null}}}}
     ],"resolve":{"scale":{"y":"independent"}}},
    {"width":297,"height":175,"title":"Q/Q percent change, annualized (dev. from U.S. long-run inflation)","layer":[
      {"data":{"name":"rec"},"mark":{"type":"rect","color":"#D9D9D9"},"encoding":{"x":{"field":"s","type":"quantitative","scale":{"domain":[1984,2020],"nice":false,"zero":false},"axis":{"values":[1984,1987,1990,1993,1996,1999,2002,2005,2008,2011,2014,2017,2020],"labelExpr":"\"'\"+substring(toString(datum.value),2,4)","title":null,"labelOverlap":false,"labelFlush":false}},"x2":{"field":"e"}}},
      {"data":{"values":[{}]},"mark":{"type":"rule","color":"#000000","strokeWidth":1},"encoding":{"y":{"datum":0,"type":"quantitative","scale":{"domain":[-12,6],"nice":false,"zero":false},"axis":{"orient":"right","values":[-12,-9,-6,-3,0,3,6],"title":null}}}},
      {"data":{"name":"q"},"mark":{"type":"line","color":"#FF0000","strokeWidth":1.5},"encoding":{"x":{"field":"t","type":"quantitative","scale":{"domain":[1984,2020],"nice":false,"zero":false},"axis":{"values":[1984,1987,1990,1993,1996,1999,2002,2005,2008,2011,2014,2017,2020],"labelExpr":"\"'\"+substring(toString(datum.value),2,4)","title":null,"labelOverlap":false,"labelFlush":false}},"y":{"field":"uc","type":"quantitative","scale":{"domain":[-12,6],"nice":false,"zero":false},"axis":{"orient":"left","values":[-12,-9,-6,-3,0,3,6],"title":null}}}}
     ],"resolve":{"scale":{"y":"independent"}}},
    {"width":297,"height":175,"title":"Percent, p.a. (dev. from U.S. long-run real rate)","layer":[
      {"data":{"name":"rec"},"mark":{"type":"rect","color":"#D9D9D9"},"encoding":{"x":{"field":"s","type":"quantitative","scale":{"domain":[1984,2020],"nice":false,"zero":false},"axis":{"values":[1984,1987,1990,1993,1996,1999,2002,2005,2008,2011,2014,2017,2020],"labelExpr":"\"'\"+substring(toString(datum.value),2,4)","title":null,"labelOverlap":false,"labelFlush":false}},"x2":{"field":"e"}}},
      {"data":{"values":[{}]},"mark":{"type":"rule","color":"#000000","strokeWidth":1},"encoding":{"y":{"datum":0,"type":"quantitative","scale":{"domain":[-4,4],"nice":false,"zero":false},"axis":{"orient":"right","values":[-4,-3,-2,-1,0,1,2,3,4],"title":null}}}},
      {"data":{"name":"q"},"transform":[{"fold":["rr","f1","f2","f3","f4"],"as":["k","v"]}],"mark":{"type":"line","strokeWidth":1.4},"encoding":{"x":{"field":"t","type":"quantitative","scale":{"domain":[1984,2020],"nice":false,"zero":false},"axis":{"values":[1984,1987,1990,1993,1996,1999,2002,2005,2008,2011,2014,2017,2020],"labelExpr":"\"'\"+substring(toString(datum.value),2,4)","title":null,"labelOverlap":false,"labelFlush":false}},"y":{"field":"v","type":"quantitative","scale":{"domain":[-4,4],"nice":false,"zero":false},"axis":{"orient":"left","values":[-4,-3,-2,-1,0,1,2,3,4],"title":null}},"color":{"field":"k","type":"nominal","scale":{"domain":["rr","f1","f2","f3","f4"],"range":["#000000","#4472C4","#B83A3A","#F08A3C","#E3A0A0"]},"legend":{"orient":"none","legendX":144,"legendY":-1,"title":null,"symbolType":"M-1.6,0L1.6,0","symbolSize":196,"symbolStrokeWidth":1.6,"labelOffset":9,"rowPadding":1,"padding":0,"labelExpr":"datum.label=='rr'?'Real Interest Rate':datum.label=='f1'?'One-Quarter-Ahead':datum.label=='f2'?'Two-Quarters-Ahead':datum.label=='f3'?'Three-Quarters-Ahead':'Four-Quarters-Ahead'"}}}}
     ],"resolve":{"scale":{"y":"independent"}}}
   ]}
  ]},
  {"spacing":2,"vconcat":[
   {"width":1121,"height":33,
    "layer":[
     {"data":{"values":[{}]},"mark":{"type":"rect","color":"#FCD5B4"},"encoding":{"x":{"datum":0,"type":"quantitative","scale":{"domain":[0,1],"range":[-27,1121]},"axis":null},"x2":{"datum":1}}},
     {"data":{"name":"bandRW"},"transform":[{"filter":"datum.r=='h'"}],"mark":{"type":"text","fontSize":14,"fontWeight":"bold"},"encoding":{"x":{"field":"c","type":"nominal","scale":{"domain":["1","2","3"],"range":[-43,1137]},"axis":null},"y":{"field":"r","type":"nominal","scale":{"domain":["h","s"]},"axis":null},"text":{"field":"s"}}},
     {"data":{"name":"bandRW"},"transform":[{"filter":"datum.r=='s'"}],"mark":{"type":"text","fontSize":13,"dy":1},"encoding":{"x":{"field":"c","type":"nominal","scale":{"domain":["1","2","3"],"range":[-43,1137]},"axis":null},"y":{"field":"r","type":"nominal","scale":{"domain":["h","s"]},"axis":null},"text":{"field":"s"}}}
    ],"resolve":{"scale":{"x":"independent"}}},
   {"spacing":44,"resolve":{"scale":{"color":"independent","strokeDash":"independent"}},"hconcat":[
    {"width":297,"height":175,"view":{"stroke":"#A6A6A6"},"title":"Percent change, annualized (Beveridge-Nelson detrended)","layer":[
      {"data":{"name":"rec"},"mark":{"type":"rect","color":"#D9D9D9"},"encoding":{"x":{"field":"s","type":"quantitative","scale":{"domain":[1984,2020],"nice":false,"zero":false},"axis":{"values":[1984,1987,1990,1993,1996,1999,2002,2005,2008,2011,2014,2017,2020],"labelExpr":"\"'\"+substring(toString(datum.value),2,4)","title":null,"labelOverlap":false,"labelFlush":false}},"x2":{"field":"e"}}},
      {"data":{"values":[{}]},"mark":{"type":"rule","color":"#000000","strokeWidth":1},"encoding":{"y":{"datum":0,"type":"quantitative","scale":{"domain":[-8,4],"nice":false,"zero":false},"axis":{"orient":"right","values":[-8,-6,-4,-2,0,2,4],"title":null}}}},
      {"data":{"name":"q"},"mark":{"type":"line","color":"#0000FF","strokeWidth":1.5},"encoding":{"x":{"field":"t","type":"quantitative","scale":{"domain":[1984,2020],"nice":false,"zero":false},"axis":{"values":[1984,1987,1990,1993,1996,1999,2002,2005,2008,2011,2014,2017,2020],"labelExpr":"\"'\"+substring(toString(datum.value),2,4)","title":null,"labelOverlap":false,"labelFlush":false}},"y":{"field":"rl","type":"quantitative","scale":{"domain":[-8,4],"nice":false,"zero":false},"axis":{"orient":"left","values":[-8,-6,-4,-2,0,2,4],"title":null}}}}
     ],"resolve":{"scale":{"y":"independent"}}},
    {"width":297,"height":175,"view":{"stroke":"#A6A6A6"},"title":"Q/Q percent change, annualized (dev. from U.S. long-run inflation)","layer":[
      {"data":{"name":"rec"},"mark":{"type":"rect","color":"#D9D9D9"},"encoding":{"x":{"field":"s","type":"quantitative","scale":{"domain":[1984,2020],"nice":false,"zero":false},"axis":{"values":[1984,1987,1990,1993,1996,1999,2002,2005,2008,2011,2014,2017,2020],"labelExpr":"\"'\"+substring(toString(datum.value),2,4)","title":null,"labelOverlap":false,"labelFlush":false}},"x2":{"field":"e"}}},
      {"data":{"values":[{}]},"mark":{"type":"rule","color":"#000000","strokeWidth":1},"encoding":{"y":{"datum":0,"type":"quantitative","scale":{"domain":[-12,6],"nice":false,"zero":false},"axis":{"orient":"right","values":[-12,-9,-6,-3,0,3,6],"title":null}}}},
      {"data":{"name":"q"},"mark":{"type":"line","color":"#FF0000","strokeWidth":1.5},"encoding":{"x":{"field":"t","type":"quantitative","scale":{"domain":[1984,2020],"nice":false,"zero":false},"axis":{"values":[1984,1987,1990,1993,1996,1999,2002,2005,2008,2011,2014,2017,2020],"labelExpr":"\"'\"+substring(toString(datum.value),2,4)","title":null,"labelOverlap":false,"labelFlush":false}},"y":{"field":"rc","type":"quantitative","scale":{"domain":[-12,6],"nice":false,"zero":false},"axis":{"orient":"left","values":[-12,-9,-6,-3,0,3,6],"title":null}}}}
     ],"resolve":{"scale":{"y":"independent"}}},
    {"width":297,"height":175,"view":{"stroke":"#A6A6A6"},"title":"Percent, p.a. (dev. from U.S. long-run nominal rate)","layer":[
      {"data":{"name":"rec"},"mark":{"type":"rect","color":"#D9D9D9"},"encoding":{"x":{"field":"s","type":"quantitative","scale":{"domain":[1984,2020],"nice":false,"zero":false},"axis":{"values":[1984,1987,1990,1993,1996,1999,2002,2005,2008,2011,2014,2017,2020],"labelExpr":"\"'\"+substring(toString(datum.value),2,4)","title":null,"labelOverlap":false,"labelFlush":false}},"x2":{"field":"e"}}},
      {"data":{"values":[{}]},"mark":{"type":"rule","color":"#000000","strokeWidth":1},"encoding":{"y":{"datum":0,"type":"quantitative","scale":{"domain":[-3,5],"nice":false,"zero":false},"axis":{"orient":"right","values":[-3,-2,-1,0,1,2,3,4,5],"title":null}}}},
      {"data":{"name":"q"},"mark":{"type":"line","color":"#000000","strokeWidth":1.5},"encoding":{"x":{"field":"t","type":"quantitative","scale":{"domain":[1984,2020],"nice":false,"zero":false},"axis":{"values":[1984,1987,1990,1993,1996,1999,2002,2005,2008,2011,2014,2017,2020],"labelExpr":"\"'\"+substring(toString(datum.value),2,4)","title":null,"labelOverlap":false,"labelFlush":false}},"y":{"field":"ri","type":"quantitative","scale":{"domain":[-3,5],"nice":false,"zero":false},"axis":{"orient":"left","values":[-3,-2,-1,0,1,2,3,4,5],"title":null}}}}
     ],"resolve":{"scale":{"y":"independent"}}}
   ]}
  ]}
 ]},
{"title":{"text":"Trend Component","anchor":"start","fontSize":16,"fontWeight":"bold","fontStyle":"normal","offset":3},
 "spacing":8,
 "vconcat":[
  {"spacing":2,"vconcat":[
   {"width":1121,"height":33,
    "layer":[
     {"data":{"values":[{}]},"mark":{"type":"rect","color":"#FCD5B4"},"encoding":{"x":{"datum":0,"type":"quantitative","scale":{"domain":[0,1],"range":[-27,1121]},"axis":null},"x2":{"datum":1}}},
     {"data":{"name":"bandUS"},"transform":[{"filter":"datum.r=='h'"}],"mark":{"type":"text","fontSize":14,"fontWeight":"bold"},"encoding":{"x":{"field":"c","type":"nominal","scale":{"domain":["1","2","3"],"range":[-43,1137]},"axis":null},"y":{"field":"r","type":"nominal","scale":{"domain":["h","s"]},"axis":null},"text":{"field":"s"}}},
     {"data":{"name":"bandUS"},"transform":[{"filter":"datum.r=='s'"}],"mark":{"type":"text","fontSize":13,"dy":1},"encoding":{"x":{"field":"c","type":"nominal","scale":{"domain":["1","2","3"],"range":[-43,1137]},"axis":null},"y":{"field":"r","type":"nominal","scale":{"domain":["h","s"]},"axis":null},"text":{"field":"s"}}}
    ],"resolve":{"scale":{"x":"independent"}}},
   {"spacing":44,"resolve":{"scale":{"color":"independent","strokeDash":"independent"}},"hconcat":[
    {"width":297,"height":175,"title":"Index, 2005=100 (Beveridge-Nelson trend)","layer":[
      {"data":{"name":"rec"},"mark":{"type":"rect","color":"#D9D9D9"},"encoding":{"x":{"field":"s","type":"quantitative","scale":{"domain":[1984,2020],"nice":false,"zero":false},"axis":{"values":[1984,1987,1990,1993,1996,1999,2002,2005,2008,2011,2014,2017,2020],"labelExpr":"\"'\"+substring(toString(datum.value),2,4)","title":null,"labelOverlap":false,"labelFlush":false}},"x2":{"field":"e"}}},
      {"data":{"values":[{}]},"mark":{"type":"rule","strokeOpacity":0},"encoding":{"y":{"datum":60,"type":"quantitative","scale":{"domain":[60,120],"nice":false,"zero":false},"axis":{"orient":"right","values":[60,80,100,120],"title":null}}}},
      {"layer":[
       {"data":{"name":"q"},"mark":{"type":"line","color":"#0000FF","strokeWidth":1.5},"encoding":{"x":{"field":"t","type":"quantitative","scale":{"domain":[1984,2020],"nice":false,"zero":false},"axis":{"values":[1984,1987,1990,1993,1996,1999,2002,2005,2008,2011,2014,2017,2020],"labelExpr":"\"'\"+substring(toString(datum.value),2,4)","title":null,"labelOverlap":false,"labelFlush":false}},"y":{"field":"tl","type":"quantitative","scale":{"domain":[60,120],"nice":false,"zero":false},"axis":{"orient":"left","values":[60,80,100,120],"title":null}}}},
       {"data":{"name":"pot"},"mark":{"type":"line","color":"#0000FF","strokeWidth":1.3},"encoding":{"x":{"field":"t","type":"quantitative","scale":{"domain":[1984,2020],"nice":false,"zero":false},"axis":{"values":[1984,1987,1990,1993,1996,1999,2002,2005,2008,2011,2014,2017,2020],"labelExpr":"\"'\"+substring(toString(datum.value),2,4)","title":null,"labelOverlap":false,"labelFlush":false}},"y":{"field":"v","type":"quantitative","scale":{"domain":[60,120],"nice":false,"zero":false},"axis":{"orient":"left","values":[60,80,100,120],"title":null}},"strokeDash":{"datum":"cbo","type":"nominal","scale":{"domain":["cbo"],"range":[[4,3]]},"legend":{"orient":"none","legendX":204,"legendY":121,"title":null,"symbolType":"M-2,0L2,0","symbolStrokeColor":"#0000FF","symbolStrokeWidth":1.4,"symbolSize":225,"labelOffset":10,"padding":0,"labelExpr":"['Potential','Estimate','(CBO)']"}}}}
      ]}
     ],"resolve":{"scale":{"y":"independent"}}},
    {"width":297,"height":175,"title":"Long-run inflation (5-year average, 5-year forward)","layer":[
      {"data":{"name":"rec"},"mark":{"type":"rect","color":"#D9D9D9"},"encoding":{"x":{"field":"s","type":"quantitative","scale":{"domain":[1984,2020],"nice":false,"zero":false},"axis":{"values":[1984,1987,1990,1993,1996,1999,2002,2005,2008,2011,2014,2017,2020],"labelExpr":"\"'\"+substring(toString(datum.value),2,4)","title":null,"labelOverlap":false,"labelFlush":false}},"x2":{"field":"e"}}},
      {"data":{"values":[{}]},"mark":{"type":"rule","strokeOpacity":0},"encoding":{"y":{"datum":0,"type":"quantitative","scale":{"domain":[0,6],"nice":false,"zero":false},"axis":{"orient":"right","values":[0,2,4,6],"title":null}}}},
      {"data":{"name":"q"},"mark":{"type":"line","color":"#FF0000","strokeWidth":1.5},"encoding":{"x":{"field":"t","type":"quantitative","scale":{"domain":[1984,2020],"nice":false,"zero":false},"axis":{"values":[1984,1987,1990,1993,1996,1999,2002,2005,2008,2011,2014,2017,2020],"labelExpr":"\"'\"+substring(toString(datum.value),2,4)","title":null,"labelOverlap":false,"labelFlush":false}},"y":{"field":"ti","type":"quantitative","scale":{"domain":[0,6],"nice":false,"zero":false},"axis":{"orient":"left","values":[0,2,4,6],"title":null}}}}
     ],"resolve":{"scale":{"y":"independent"}}},
    {"width":297,"height":175,"title":"Long-run, percent, p.a. (5-year average, 5-year forward)","layer":[
      {"data":{"name":"rec"},"mark":{"type":"rect","color":"#D9D9D9"},"encoding":{"x":{"field":"s","type":"quantitative","scale":{"domain":[1984,2020],"nice":false,"zero":false},"axis":{"values":[1984,1987,1990,1993,1996,1999,2002,2005,2008,2011,2014,2017,2020],"labelExpr":"\"'\"+substring(toString(datum.value),2,4)","title":null,"labelOverlap":false,"labelFlush":false}},"x2":{"field":"e"}}},
      {"data":{"values":[{}]},"mark":{"type":"rule","strokeOpacity":0},"encoding":{"y":{"datum":0,"type":"quantitative","scale":{"domain":[0,4],"nice":false,"zero":false},"axis":{"orient":"right","values":[0,1,2,3,4],"title":null}}}},
      {"data":{"name":"q"},"mark":{"type":"line","color":"#000000","strokeWidth":1.5},"encoding":{"x":{"field":"t","type":"quantitative","scale":{"domain":[1984,2020],"nice":false,"zero":false},"axis":{"values":[1984,1987,1990,1993,1996,1999,2002,2005,2008,2011,2014,2017,2020],"labelExpr":"\"'\"+substring(toString(datum.value),2,4)","title":null,"labelOverlap":false,"labelFlush":false}},"y":{"field":"tr","type":"quantitative","scale":{"domain":[0,4],"nice":false,"zero":false},"axis":{"orient":"left","values":[0,1,2,3,4],"title":null}}}}
     ],"resolve":{"scale":{"y":"independent"}}}
   ]}
  ]},
  {"spacing":2,"vconcat":[
   {"width":1121,"height":33,
    "layer":[
     {"data":{"values":[{}]},"mark":{"type":"rect","color":"#FCD5B4"},"encoding":{"x":{"datum":0,"type":"quantitative","scale":{"domain":[0,1],"range":[-27,1121]},"axis":null},"x2":{"datum":1}}},
     {"data":{"name":"bandRW"},"transform":[{"filter":"datum.r=='h'"}],"mark":{"type":"text","fontSize":14,"fontWeight":"bold"},"encoding":{"x":{"field":"c","type":"nominal","scale":{"domain":["1","2","3"],"range":[-43,1137]},"axis":null},"y":{"field":"r","type":"nominal","scale":{"domain":["h","s"]},"axis":null},"text":{"field":"s"}}},
     {"data":{"name":"bandRW"},"transform":[{"filter":"datum.r=='s'"}],"mark":{"type":"text","fontSize":13,"dy":1},"encoding":{"x":{"field":"c","type":"nominal","scale":{"domain":["1","2","3"],"range":[-43,1137]},"axis":null},"y":{"field":"r","type":"nominal","scale":{"domain":["h","s"]},"axis":null},"text":{"field":"s"}}}
    ],"resolve":{"scale":{"x":"independent"}}},
   {"spacing":44,"resolve":{"scale":{"color":"independent","strokeDash":"independent"}},"hconcat":[
    {"width":297,"height":175,"title":"Index, 2005=100 (Beveridge-Nelson trend)","layer":[
      {"data":{"name":"rec"},"mark":{"type":"rect","color":"#D9D9D9"},"encoding":{"x":{"field":"s","type":"quantitative","scale":{"domain":[1984,2020],"nice":false,"zero":false},"axis":{"values":[1984,1987,1990,1993,1996,1999,2002,2005,2008,2011,2014,2017,2020],"labelExpr":"\"'\"+substring(toString(datum.value),2,4)","title":null,"labelOverlap":false,"labelFlush":false}},"x2":{"field":"e"}}},
      {"data":{"values":[{}]},"mark":{"type":"rule","strokeOpacity":0},"encoding":{"y":{"datum":60,"type":"quantitative","scale":{"domain":[60,160],"nice":false,"zero":false},"axis":{"orient":"right","values":[60,80,100,120,140,160],"title":null}}}},
      {"data":{"name":"q"},"mark":{"type":"line","color":"#0000FF","strokeWidth":1.5},"encoding":{"x":{"field":"t","type":"quantitative","scale":{"domain":[1984,2020],"nice":false,"zero":false},"axis":{"values":[1984,1987,1990,1993,1996,1999,2002,2005,2008,2011,2014,2017,2020],"labelExpr":"\"'\"+substring(toString(datum.value),2,4)","title":null,"labelOverlap":false,"labelFlush":false}},"y":{"field":"tw","type":"quantitative","scale":{"domain":[60,160],"nice":false,"zero":false},"axis":{"orient":"left","values":[60,80,100,120,140,160],"title":null}}}}
     ],"resolve":{"scale":{"y":"independent"}}},
    {"width":297,"height":175,"title":"U.S. long-run inflation (5-year average, 5-year forward)","layer":[
      {"data":{"name":"rec"},"mark":{"type":"rect","color":"#D9D9D9"},"encoding":{"x":{"field":"s","type":"quantitative","scale":{"domain":[1984,2020],"nice":false,"zero":false},"axis":{"values":[1984,1987,1990,1993,1996,1999,2002,2005,2008,2011,2014,2017,2020],"labelExpr":"\"'\"+substring(toString(datum.value),2,4)","title":null,"labelOverlap":false,"labelFlush":false}},"x2":{"field":"e"}}},
      {"data":{"values":[{}]},"mark":{"type":"rule","strokeOpacity":0},"encoding":{"y":{"datum":0,"type":"quantitative","scale":{"domain":[0,6],"nice":false,"zero":false},"axis":{"orient":"right","values":[0,2,4,6],"title":null}}}},
      {"data":{"name":"q"},"mark":{"type":"line","color":"#FF0000","strokeWidth":1.5},"encoding":{"x":{"field":"t","type":"quantitative","scale":{"domain":[1984,2020],"nice":false,"zero":false},"axis":{"values":[1984,1987,1990,1993,1996,1999,2002,2005,2008,2011,2014,2017,2020],"labelExpr":"\"'\"+substring(toString(datum.value),2,4)","title":null,"labelOverlap":false,"labelFlush":false}},"y":{"field":"ti","type":"quantitative","scale":{"domain":[0,6],"nice":false,"zero":false},"axis":{"orient":"left","values":[0,2,4,6],"title":null}}}}
     ],"resolve":{"scale":{"y":"independent"}}},
    {"width":297,"height":175,"title":"U.S. long-run, percent, p.a. (5-year average, 5-year forward)","layer":[
      {"data":{"name":"rec"},"mark":{"type":"rect","color":"#D9D9D9"},"encoding":{"x":{"field":"s","type":"quantitative","scale":{"domain":[1984,2020],"nice":false,"zero":false},"axis":{"values":[1984,1987,1990,1993,1996,1999,2002,2005,2008,2011,2014,2017,2020],"labelExpr":"\"'\"+substring(toString(datum.value),2,4)","title":null,"labelOverlap":false,"labelFlush":false}},"x2":{"field":"e"}}},
      {"data":{"values":[{}]},"mark":{"type":"rule","strokeOpacity":0},"encoding":{"y":{"datum":0,"type":"quantitative","scale":{"domain":[0,9],"nice":false,"zero":false},"axis":{"orient":"right","values":[0,3,6,9],"title":null}}}},
      {"data":{"name":"q"},"mark":{"type":"line","color":"#000000","strokeWidth":1.5},"encoding":{"x":{"field":"t","type":"quantitative","scale":{"domain":[1984,2020],"nice":false,"zero":false},"axis":{"values":[1984,1987,1990,1993,1996,1999,2002,2005,2008,2011,2014,2017,2020],"labelExpr":"\"'\"+substring(toString(datum.value),2,4)","title":null,"labelOverlap":false,"labelFlush":false}},"y":{"field":"tn","type":"quantitative","scale":{"domain":[0,9],"nice":false,"zero":false},"axis":{"orient":"left","values":[0,3,6,9],"title":null}}}}
     ],"resolve":{"scale":{"y":"independent"}}}
   ]}
  ]}
 ]}
]
}
